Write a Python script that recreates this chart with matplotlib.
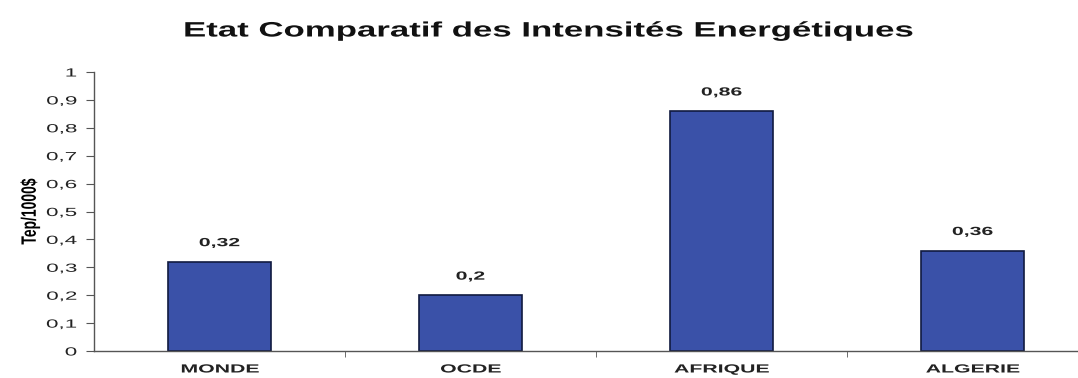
import matplotlib.pyplot as plt
import numpy as np
from matplotlib.patheffects import AbstractPathEffect
from matplotlib.transforms import Affine2D

plt.rcParams['font.family'] = ['Liberation Sans', 'DejaVu Sans']

categories = ['MONDE', 'OCDE', 'AFRIQUE', 'ALGERIE']
values = [0.32, 0.2, 0.86, 0.36]
value_labels = ['0,32', '0,2', '0,86', '0,36']
ytick_vals = [0, 0.1, 0.2, 0.3, 0.4, 0.5, 0.6, 0.7, 0.8, 0.9, 1]
ytick_labels = ['0', '0,1', '0,2', '0,3', '0,4', '0,5', '0,6', '0,7', '0,8', '0,9', '1']


# the original image is stretched sideways, so widen the glyphs the same way
class Widen(AbstractPathEffect):
    def __init__(self, text, sx):
        super().__init__()
        self.text = text
        self.sx = sx

    def draw_path(self, renderer, gc, tpath, affine, rgbFace=None):
        bb = self.text.get_window_extent(renderer)
        ha = self.text.get_horizontalalignment()
        if self.text.get_rotation() != 0:
            cx = (bb.x0 + bb.x1) / 2
        elif ha == 'right':
            cx = bb.x1
        elif ha == 'left':
            cx = bb.x0
        else:
            cx = (bb.x0 + bb.x1) / 2
        tr = Affine2D().translate(-cx, 0).scale(self.sx, 1).translate(cx, 0)
        renderer.draw_path(gc, tpath, affine + tr, rgbFace)


def widen(t, sx=1.8):
    t.set_path_effects([Widen(t, sx)])


fig = plt.figure(figsize=(10.78, 3.78), dpi=100)
ax = fig.add_axes([94 / 1078, 27 / 378, 1004 / 1078, 279 / 378])

x = np.arange(len(categories))
ax.bar(x, values, width=0.41, color='#3a51a8', edgecolor='#101a40', linewidth=1.2)

for xi, v, lab in zip(x, values, value_labels):
    t = ax.text(xi, v + 0.045, lab, ha='center', va='bottom', fontsize=8.5, fontweight='bold', color='#222222')
    widen(t)

ax.set_xlim(-0.5, len(categories) - 0.5)
ax.set_ylim(0, 1)
ax.set_yticks(ytick_vals)
ax.set_yticklabels(ytick_labels, fontsize=8.5, color='#222222')
ax.set_xticks(x)
ax.set_xticklabels(categories, fontsize=8.5, fontweight='bold', color='#222222')
ax.tick_params(axis='x', which='major', length=0, pad=9)
ax.set_xticks(np.arange(0.5, len(categories) - 0.5, 1), minor=True)
ax.tick_params(axis='x', which='minor', length=4, direction='out', color='#555555')
ax.tick_params(axis='y', length=6, direction='out', color='#555555', pad=6)
for t in ax.get_xticklabels():
    widen(t)
for t in ax.get_yticklabels():
    widen(t, 1.9)

for s in ['top', 'right']:
    ax.spines[s].set_visible(False)
for s in ['left', 'bottom']:
    ax.spines[s].set_color('#555555')
    ax.spines[s].set_linewidth(1.0)

yl = ax.set_ylabel('Tep/1000$', fontsize=10, fontweight='bold')
ax.yaxis.set_label_coords(-0.057, 0.5)
widen(yl, 1.5)
title = fig.text(550 / 1078, 1 - 31 / 378, 'Etat Comparatif des Intensités Energétiques',
                 ha='center', va='center', fontsize=15, fontweight='bold', color='#111111')
widen(title, 1.67)

fig.savefig('out.png', dpi=100)
